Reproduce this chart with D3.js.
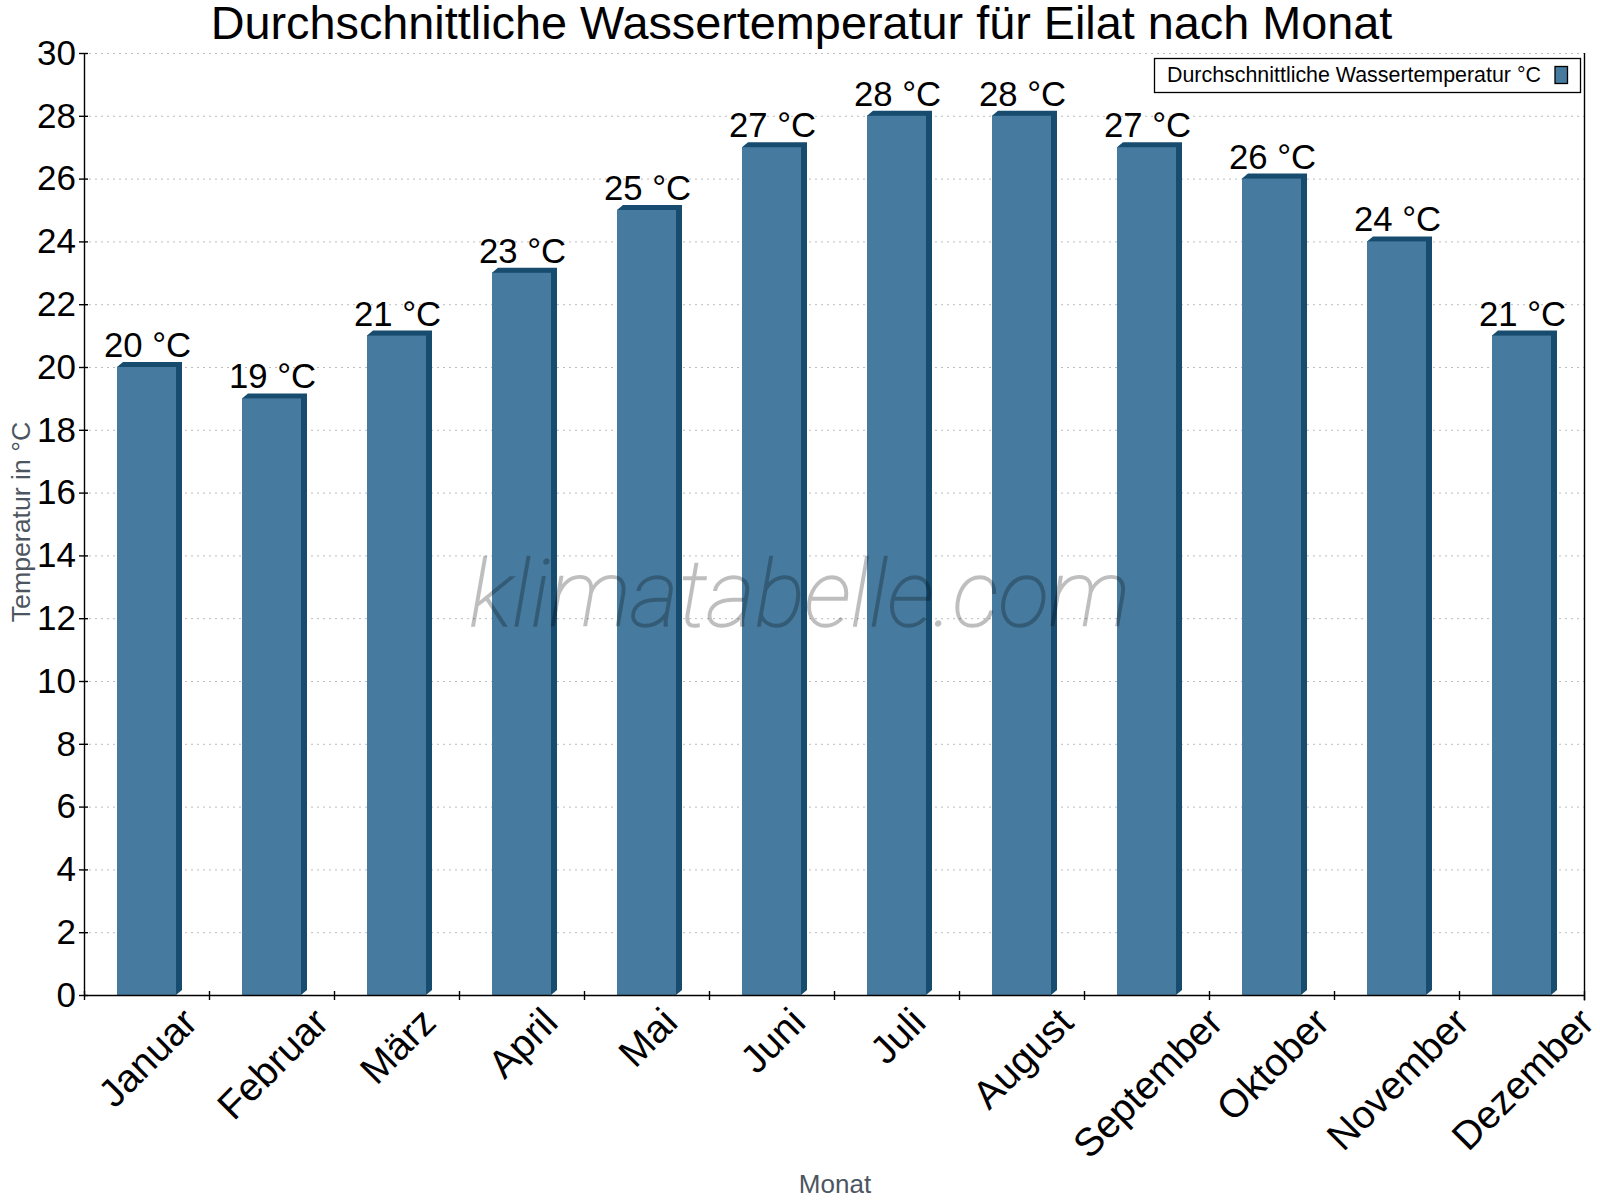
<!DOCTYPE html>
<html>
<head>
<meta charset="utf-8">
<script src="https://cdn.jsdelivr.net/npm/d3@7"></script>
<style>
  html, body { margin: 0; padding: 0; background: #fff; }
  svg { display: block; }
  text { font-family: "Liberation Sans", Arial, sans-serif; }
  .grid line { stroke: #bdbdbd; stroke-width: 1; stroke-dasharray: 2 4; }
  .axis path, .axis line, .right-edge { stroke: #000; stroke-width: 1.4; }
</style>
</head>
<body>
<div id="chart"></div>
<script>
const months = ['Januar', 'Februar', 'März', 'April', 'Mai', 'Juni', 'Juli', 'August', 'September', 'Oktober', 'November', 'Dezember']
const waterTemp = [20, 19, 21, 23, 25, 27, 28, 28, 27, 26, 24, 21]
const yTicks = d3.range(0, 31, 2)

const titleText = 'Durchschnittliche Wassertemperatur für Eilat nach Monat'
const legendText = 'Durchschnittliche Wassertemperatur °C'
const xTitle = 'Monat'
const yTitle = 'Temperatur in °C'
const watermark = 'klimatabelle.com'

const frontColor = '#467b9f'
const sideColor = '#174c6f'
const titleGray = '#4d5660'

const margin = { top: 53, right: 16, bottom: 205, left: 84 }
const width = 1600
const height = 1200
const depthX = 6
const depthY = 5
const labelSize = 39.2

const svg = d3
  .select('#chart')
  .append('svg')
  .attr('width', width)
  .attr('height', height)
  .attr('viewBox', `0 0 ${width} ${height}`)

const xScale = d3
  .scaleBand()
  .domain(months)
  .range([margin.left, width - margin.right])
  .paddingInner(0.528)
  .paddingOuter(0.264)

const xEdges = d3
  .scaleLinear()
  .domain([0, months.length])
  .range([margin.left, width - margin.right])

const yScale = d3
  .scaleLinear()
  .domain([0, 30])
  .range([height - margin.bottom, margin.top])

// grid first, the bars sit on top of it
svg
  .append('g')
  .attr('class', 'grid')
  .selectAll('line')
  .data(yTicks.filter((d) => d > 0))
  .enter()
  .append('line')
  .attr('x1', margin.left + 5)
  .attr('x2', width - margin.right)
  .attr('y1', (d) => yScale(d) + 0.5)
  .attr('y2', (d) => yScale(d) + 0.5)

// bars: top and side faces, then the front
let bars = svg
  .append('g')
  .selectAll('g')
  .data(waterTemp)
  .enter()
  .append('g')

bars
  .append('polygon')
  .attr('fill', sideColor)
  .attr('points', (d, i) => {
    let x0 = xScale(months[i])
    let x1 = x0 + xScale.bandwidth()
    let y0 = yScale(d)
    let yBase = yScale(0)
    return [
      [x0, y0],
      [x0 + depthX, y0 - depthY],
      [x1 + depthX, y0 - depthY],
      [x1 + depthX, yBase - depthY],
      [x1, yBase],
    ].join(' ')
  })

bars
  .append('rect')
  .attr('fill', frontColor)
  .attr('x', (d, i) => xScale(months[i]))
  .attr('y', (d) => yScale(d))
  .attr('width', xScale.bandwidth())
  .attr('height', (d) => yScale(0) - yScale(d))

bars
  .append('text')
  .text((d) => `${d} °C`)
  .attr('x', (d, i) => xScale(months[i]) + xScale.bandwidth() / 2 + 1)
  .attr('y', (d) => yScale(d) - 10)
  .attr('text-anchor', 'middle')
  .attr('font-size', 34.7)
  .attr('fill', '#000')

// y axis
let yAxis = d3.axisLeft(yScale).tickValues(yTicks).tickSize(5).tickSizeOuter(0).tickPadding(3)
let yG = svg
  .append('g')
  .attr('class', 'axis')
  .attr('transform', `translate(${margin.left},0)`)
  .call(yAxis)
yG.selectAll('.tick line').attr('x1', -5).attr('x2', 4)
yG.selectAll('text').attr('font-size', 35).attr('fill', '#000')

// right edge of the plot, runs down past the axis like a tick
svg
  .append('line')
  .attr('class', 'right-edge')
  .attr('x1', xEdges(months.length) + 0.5)
  .attr('x2', xEdges(months.length) + 0.5)
  .attr('y1', yScale(30))
  .attr('y2', yScale(0) + 5.5)

// x axis: the ticks sit between the months, so two scales are used
let xAxisTicks = d3.axisBottom(xEdges).tickValues(d3.range(0, months.length + 1)).tickSizeOuter(0).tickFormat('')
let xG = svg
  .append('g')
  .attr('class', 'axis')
  .attr('transform', `translate(0,${yScale(0)})`)
  .call(xAxisTicks)
xG.selectAll('.tick line').attr('y1', -4).attr('y2', 5)

let xAxisLabels = d3.axisBottom(xScale).tickSize(0).tickPadding(0)
let xLabelG = svg
  .append('g')
  .attr('class', 'x-labels')
  .attr('transform', `translate(0,${yScale(0)})`)
  .call(xAxisLabels)
xLabelG.select('.domain').remove()
xLabelG
  .selectAll('text')
  .attr('font-size', labelSize)
  .attr('fill', '#000')
  .attr('text-anchor', 'middle')
  .attr('y', 0)
  .attr('dy', '0.35em')
  .attr('transform', function () {
    // every rotated label hangs from the same top line, centred on its month
    let extent = (this.getComputedTextLength() + labelSize * 0.72) * Math.SQRT1_2
    return `translate(1,${10 + extent / 2}) rotate(-45)`
  })

// titles
svg
  .append('text')
  .text(titleText)
  .attr('x', 801.5)
  .attr('y', 38.5)
  .attr('text-anchor', 'middle')
  .attr('font-size', 46.8)
  .attr('fill', '#000')

svg
  .append('text')
  .text(xTitle)
  .attr('x', 835)
  .attr('y', 1193)
  .attr('text-anchor', 'middle')
  .attr('font-size', 26)
  .attr('fill', titleGray)

svg
  .append('text')
  .text(yTitle)
  .attr('transform', 'translate(29.5,522) rotate(-90)')
  .attr('text-anchor', 'middle')
  .attr('font-size', 26.7)
  .attr('fill', titleGray)

// legend
let legend = svg.append('g')
legend
  .append('rect')
  .attr('x', 1154.5)
  .attr('y', 58.5)
  .attr('width', 426)
  .attr('height', 34)
  .attr('fill', '#fff')
  .attr('stroke', '#000')
  .attr('stroke-width', 1.3)
legend
  .append('text')
  .text(legendText)
  .attr('x', 1167)
  .attr('y', 82)
  .attr('font-size', 21.4)
  .attr('fill', '#000')
legend
  .append('rect')
  .attr('x', 1555)
  .attr('y', 66.5)
  .attr('width', 12.5)
  .attr('height', 17)
  .attr('fill', frontColor)
  .attr('stroke', '#000')
  .attr('stroke-width', 1.3)

// watermark goes over the bars, style() because the css rule beats the attribute
svg
  .append('text')
  .text(watermark)
  .attr('x', 799.5)
  .attr('y', 626)
  .attr('text-anchor', 'middle')
  .style('font-family', 'Roboto, "Liberation Sans", sans-serif')
  .style('font-weight', 100)
  .style('font-style', 'italic')
  .style('font-size', '93.5px')
  .attr('fill', '#000')
  .attr('stroke', '#000')
  .attr('stroke-width', 1.5)
  .attr('opacity', 0.25)
</script>
</body>
</html>
